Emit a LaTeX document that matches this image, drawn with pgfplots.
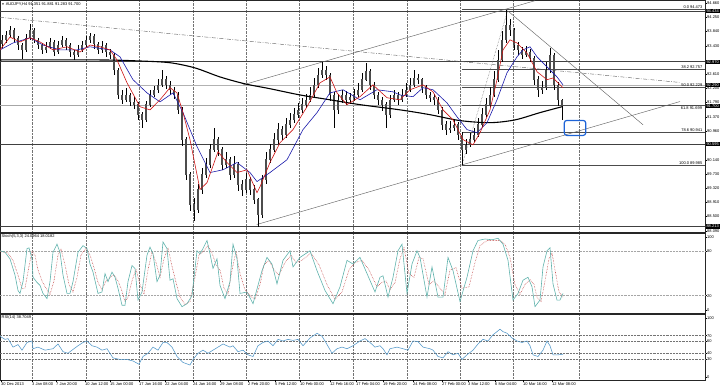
\documentclass[border=0pt]{standalone}
\usepackage{fontspec}
\setmainfont{Liberation Sans}
\usepackage{pgfplots}
\usepackage{pgfplotstable}
\pgfplotsset{compat=1.18}
\definecolor{stochmain}{RGB}{95,178,172}
\definecolor{stochsig}{RGB}{190,60,60}
\definecolor{rsiblue}{RGB}{80,150,200}
\definecolor{mared}{RGB}{205,20,20}
\definecolor{mablue}{RGB}{25,25,170}
\definecolor{boxblue}{RGB}{30,100,215}
\newcommand\lab{\fontsize{4}{4.5}\selectfont}

\pgfplotstableread{
x o h l c
2 93.50 93.75 93.38 93.60
6 93.60 93.85 93.52 93.74
10 93.74 94.00 93.68 93.89
14 93.89 93.95 93.55 93.66
18 93.66 93.72 93.30 93.45
22 93.45 93.52 93.05 93.31
26 93.31 93.78 93.25 93.66
30 93.66 94.06 93.60 93.89
34 93.89 93.94 93.50 93.60
38 93.60 93.66 93.35 93.45
42 93.45 93.52 93.20 93.31
46 93.31 93.55 93.22 93.40
50 93.40 93.66 93.33 93.54
54 93.54 93.60 93.12 93.25
58 93.25 93.58 93.18 93.45
62 93.45 93.72 93.40 93.60
66 93.60 93.66 93.30 93.43
70 93.43 93.50 93.10 93.25
74 93.25 93.32 93.02 93.17
78 93.17 93.44 93.10 93.31
82 93.31 93.58 93.25 93.45
86 93.45 93.70 93.40 93.60
90 93.60 93.80 93.52 93.71
94 93.71 93.76 93.35 93.48
98 93.48 93.55 93.18 93.31
102 93.31 93.56 93.22 93.43
106 93.43 93.50 93.10 93.25
110 93.25 93.33 93.05 93.17
114 93.17 93.22 92.60 92.73
118 92.73 92.80 91.90 92.01
122 92.01 92.15 91.75 91.87
126 91.87 92.20 91.80 92.01
130 92.01 92.08 91.70 91.81
134 91.81 91.95 91.60 91.73
138 91.73 91.80 91.30 91.44
142 91.44 91.52 91.06 91.29
146 91.29 91.85 91.22 91.73
150 91.73 92.15 91.65 92.01
154 92.01 92.28 91.95 92.16
158 92.16 92.48 92.08 92.30
162 92.30 92.73 92.25 92.45
166 92.45 92.55 92.18 92.30
170 92.30 92.40 92.02 92.16
174 92.16 92.25 91.88 92.01
178 92.01 92.10 91.45 91.58
182 91.58 91.65 90.55 90.72
186 90.72 90.80 89.55 89.71
190 89.71 89.80 88.65 88.85
194 88.85 89.05 88.36 88.70
198 88.70 89.45 88.60 89.28
202 89.28 89.90 89.15 89.71
206 89.71 90.20 89.60 90.00
210 90.00 90.60 89.90 90.43
214 90.43 91.06 90.35 90.72
218 90.72 90.80 90.25 90.43
222 90.43 90.52 89.85 90.00
226 90.00 90.35 89.90 90.14
230 90.14 90.22 89.55 89.71
234 89.71 90.25 89.62 90.00
238 90.00 90.08 89.25 89.42
242 89.42 89.55 89.10 89.28
246 89.28 89.75 89.18 89.57
250 89.57 89.65 89.12 89.28
254 89.28 89.40 88.85 88.99
258 88.99 89.05 88.21 88.56
262 88.56 89.70 88.45 89.57
266 89.57 90.35 89.45 90.14
270 90.14 90.60 90.05 90.43
274 90.43 90.90 90.35 90.72
278 90.72 91.20 90.60 91.01
282 91.01 91.10 90.70 90.86
286 90.86 91.35 90.78 91.15
290 91.15 91.50 91.05 91.29
294 91.29 91.62 91.20 91.44
298 91.44 91.78 91.35 91.58
302 91.58 91.92 91.50 91.73
306 91.73 92.05 91.62 91.87
310 91.87 92.25 91.80 92.01
314 92.01 92.50 91.95 92.30
318 92.30 92.80 92.22 92.59
322 92.59 92.96 92.50 92.73
326 92.73 92.85 92.45 92.59
330 92.59 92.65 91.85 92.01
334 92.01 92.10 91.06 91.58
338 91.58 92.05 91.45 91.87
342 91.87 92.15 91.78 92.01
346 92.01 92.12 91.72 91.87
350 91.87 92.08 91.75 91.93
354 91.93 92.18 91.85 92.01
358 92.01 92.35 91.95 92.16
362 92.16 92.65 92.10 92.45
366 92.45 92.93 92.40 92.68
370 92.68 92.75 92.15 92.30
374 92.30 92.38 91.88 92.01
378 92.01 92.10 91.72 91.87
382 91.87 91.95 91.55 91.73
386 91.73 91.80 91.06 91.44
390 91.44 92.00 91.35 91.87
394 91.87 92.15 91.80 92.01
398 92.01 92.10 91.72 91.87
402 91.87 92.18 91.80 92.01
406 92.01 92.35 91.95 92.16
410 92.16 92.50 92.10 92.30
414 92.30 92.73 92.25 92.50
418 92.50 92.62 92.32 92.45
422 92.45 92.50 92.08 92.22
426 92.22 92.30 91.88 92.01
430 92.01 92.10 91.80 91.93
434 91.93 92.05 91.72 91.87
438 91.87 91.95 91.45 91.58
442 91.58 91.65 91.00 91.15
446 91.15 91.25 90.85 91.01
450 91.01 91.25 90.92 91.06
454 91.06 91.30 90.98 91.15
458 91.15 91.22 90.70 90.86
462 90.86 90.95 89.985 90.43
466 90.43 90.75 90.30 90.57
470 90.57 90.90 90.50 90.72
474 90.72 91.05 90.65 90.86
478 90.86 91.35 90.80 91.15
482 91.15 91.62 91.08 91.44
486 91.44 91.92 91.38 91.73
490 91.73 92.25 91.65 92.01
494 92.01 92.70 91.95 92.45
498 92.45 93.30 92.38 93.02
502 93.02 93.85 92.95 93.60
506 93.60 94.473 93.50 94.03
510 94.03 94.20 93.70 93.89
514 93.89 93.95 93.30 93.45
518 93.45 93.55 93.15 93.31
522 93.31 93.40 93.05 93.17
526 93.17 93.42 93.10 93.25
530 93.25 93.35 92.95 93.08
534 93.08 93.12 92.30 92.45
538 92.45 92.55 91.95 92.16
542 92.16 92.40 92.05 92.22
546 92.22 92.95 92.15 92.73
550 92.73 93.37 92.65 93.17
554 93.17 93.22 92.15 92.30
558 92.30 92.38 91.70 91.87
562 91.87 91.88 91.29 91.70
}\candles

\pgfplotsset{mtpanel/.style={
  scale only axis, width=705pt, xmin=0, xmax=705,
  axis line style={black!85, line width=0.5pt},
  xtick={32.3,86,139.3,192.7,246,299.3,352.7,406.7,460,513.3,579.3},
  xticklabels={}, xtick pos=bottom, xtick style={draw=none},
  xmajorgrids, major grid style={black!55, densely dotted, line width=0.4pt},
  ytick pos=right, yticklabel pos=right,
  tick align=outside, major tick length=1.5pt,
  ytick style={black, line width=0.4pt},
  yticklabel style={font=\lab, inner sep=0.5pt, anchor=west},
  clip=false,
}}
\tikzset{hl/.style={fill=black, text=white, font=\lab, anchor=west, inner xsep=0.8pt, inner ysep=0.6pt}}

\begin{document}
\begin{tikzpicture}
\path[use as bounding box] (0,0) rectangle (720pt,-387pt);

% ---------------- main price panel ----------------
\begin{axis}[mtpanel, at={(0pt,-0.5pt)}, anchor=north west,
  height=232pt, ymin=88.04, ymax=94.736,
  ytick={94.66,94.25,93.84,93.43,92.61,92.20,91.79,91.37,90.96,90.14,89.73,89.32,88.91,88.50,88.09},
  yticklabels={94.660,94.250,93.840,93.430,92.610,92.200,91.790,91.370,90.960,90.140,89.730,89.320,88.910,88.500,88.090}]
% horizontal levels
\addplot[black!75, line width=0.6pt] coordinates {(0,94.434) (705,94.434)};
\addplot[black!75, line width=0.6pt] coordinates {(0,92.970) (705,92.970)};
\addplot[black!30, line width=1.4pt] coordinates {(0,92.290) (705,92.290)};
\addplot[black!35, line width=0.6pt] coordinates {(0,91.700) (705,91.700)};
\addplot[black!75, line width=0.6pt] coordinates {(0,90.595) (705,90.595)};
\addplot[black!75, line width=0.6pt] coordinates {(0,88.213) (705,88.213)};
% fibonacci levels
\addplot[black!70, line width=0.5pt] coordinates {(462,94.473) (705,94.473)};
\addplot[black!70, line width=0.5pt] coordinates {(462,92.757) (705,92.757)};
\addplot[black!70, line width=0.5pt] coordinates {(462,92.229) (705,92.229)};
\addplot[black!70, line width=0.5pt] coordinates {(462,91.699) (705,91.699)};
\addplot[black!70, line width=0.5pt] coordinates {(462,90.945) (705,90.945)};
\addplot[black!70, line width=0.5pt] coordinates {(462,89.985) (705,89.985)};
\addplot[black!60, densely dotted, line width=0.5pt] coordinates {(462,89.985) (508,94.473)};
% trend lines
\addplot[black!60, line width=0.45pt] coordinates {(243,92.30) (535,94.73)};
\addplot[black!60, line width=0.45pt] coordinates {(256.7,88.27) (680,91.82)};
\addplot[black!60, line width=0.45pt] coordinates {(508,94.43) (643,91.15)};
\addplot[black!60, line width=0.45pt, dash pattern=on 4pt off 1.5pt on 0.6pt off 1.5pt] coordinates {(0,94.25) (680,92.37)};
% candles: wicks and bodies
\addplot[draw=none, error bars/.cd, y dir=both, y explicit, error mark=none,
  error bar style={draw=black, solid, line width=0.5pt}]
  table[x=x, y expr={(\thisrow{h}+\thisrow{l})/2}, y error expr={(\thisrow{h}-\thisrow{l})/2}] {\candles};
\addplot[draw=none, error bars/.cd, y dir=both, y explicit, error mark=none,
  error bar style={draw=black!70, solid, line width=1.6pt}]
  table[x=x, y expr={(\thisrow{o}+\thisrow{c})/2}, y error expr={abs(\thisrow{o}-\thisrow{c})/2+0.008}] {\candles};
% moving averages
\addplot[black, line width=1.1pt, smooth] coordinates {
(0,93.02) (100,93.02) (140,92.99) (170,92.94) (195,92.79) (220,92.53) (245,92.33) (270,92.19)
(300,92.01) (330,91.87) (360,91.73) (400,91.58) (430,91.44) (460,91.27) (490,91.21) (515,91.29)
(540,91.50) (562,91.67)};
\addplot[mablue, line width=0.6pt] coordinates {
(0,93.31) (13,93.51) (30,93.66) (43,93.45) (60,93.31) (77,93.31) (90,93.40) (110,93.31) (120,93.11)
(133,92.45) (147,92.07) (160,91.81) (173,92.07) (183,91.50) (197,90.52) (210,89.77) (223,89.85)
(237,90.06) (250,89.77) (257,89.51) (270,89.77) (287,90.14) (303,91.01) (317,91.50) (330,92.07)
(343,92.16) (360,91.87) (377,92.16) (393,92.10) (400,92.01) (413,91.96) (423,92.22) (433,92.16)
(447,91.78) (457,91.38) (467,91.01) (477,90.92) (487,91.21) (497,91.87) (507,92.65) (517,93.11)
(523,93.31) (530,93.40) (537,93.11) (547,92.82) (557,92.53) (563,92.30)};
\addplot[mared, line width=0.6pt] coordinates {
(0,93.31) (10,93.68) (20,93.54) (30,93.66) (40,93.54) (53,93.31) (67,93.40) (80,93.25) (90,93.45)
(100,93.40) (110,93.31) (117,93.02) (127,92.36) (140,91.67) (150,91.58) (160,91.87) (170,92.22)
(177,92.07) (183,91.50) (190,90.72) (200,89.28) (207,89.48) (218,90.37) (227,90.06) (237,89.77)
(247,89.85) (257,89.19) (260,89.36) (270,90.06) (280,90.63) (293,91.01) (307,91.67) (320,92.36)
(330,92.53) (337,92.07) (347,91.73) (360,91.96) (373,92.30) (387,91.93) (400,91.87) (410,92.16)
(423,92.30) (433,92.10) (443,91.58) (453,91.29) (463,90.72) (473,90.57) (480,90.92) (490,91.58)
(497,92.45) (503,93.31) (510,93.60) (517,93.51) (527,93.22) (537,92.68) (547,92.45) (553,92.50)
(563,92.22)};
% target box
\draw[boxblue, line width=1.2pt, rounded corners=2.5pt] (axis cs:564.3,91.274) rectangle (axis cs:585.7,90.842);
% fibonacci labels
\node[font=\lab, anchor=south east, inner sep=0.4pt] at (axis cs:703,94.473) {0.0 94.473};
\node[font=\lab, anchor=south east, inner sep=0.4pt] at (axis cs:703,92.757) {38.2 92.757};
\node[font=\lab, anchor=south east, inner sep=0.4pt] at (axis cs:703,92.229) {50.0 92.229};
\node[font=\lab, anchor=north east, inner sep=0.8pt] at (axis cs:703,91.699) {61.8 91.699};
\node[font=\lab, anchor=south east, inner sep=0.4pt] at (axis cs:703,90.945) {78.6 90.941};
\node[font=\lab, anchor=south east, inner sep=0.4pt] at (axis cs:703,89.985) {100.0 89.985};
% highlighted price labels
\node[hl] at (axis cs:705.5,94.434) {94.434};
\node[hl] at (axis cs:705.5,92.970) {92.970};
\node[hl] at (axis cs:705.5,92.290) {92.290};
\node[hl] at (axis cs:705.5,91.700) {91.700};
\node[hl] at (axis cs:705.5,90.595) {90.595};
\node[hl] at (axis cs:705.5,88.213) {88.213};
% header
\node[font=\lab, anchor=north west, inner sep=0.5pt] at (axis cs:1,94.70) {{\fontsize{3}{3}\selectfont ▼}\ AUDJPY,H4 91.351 91.881 91.283 91.700};
\end{axis}

% ---------------- stochastic panel ----------------
\begin{axis}[mtpanel, at={(0pt,-233.5pt)}, anchor=north west,
  height=79.5pt, ymin=-3.6, ymax=104.5,
  ytick={0,20,80,100}, yticklabels={0,20,80,100}]
\addplot[black!35, densely dotted, line width=0.45pt] coordinates {(0,80) (705,80)};
\addplot[black!35, densely dotted, line width=0.45pt] coordinates {(0,20) (705,20)};
\addplot[stochsig, densely dotted, line width=0.55pt] coordinates {
(0,80) (8,78) (13,68) (18,48) (22,30) (25,30) (29,60) (32,80) (35,75) (38,55) (42,40) (46,30) (50,22)
(54,40) (58,75) (61,83) (65,62) (69,35) (73,25) (77,45) (81,75) (86,85) (90,75) (94,58) (98,38)
(102,28) (106,40) (110,45) (114,48) (118,40) (121,30) (125,12) (128,18) (132,40) (136,56) (140,35)
(144,22) (148,55) (152,80) (156,65) (160,45) (164,70) (168,85) (172,60) (176,38) (180,18) (185,8)
(190,12) (195,45) (199,75) (203,80) (208,88) (212,78) (216,62) (220,55) (224,30) (228,22) (232,55)
(236,80) (240,50) (245,28) (250,20) (255,15) (260,35) (264,62) (269,68) (274,55) (279,48) (285,65)
(291,75) (296,65) (302,68) (311,78) (319,62) (327,35) (335,15) (342,25) (349,55) (355,65) (362,68)
(369,55) (377,32) (382,38) (386,40) (390,28) (395,38) (400,70) (404,85) (409,50) (414,45) (419,72)
(423,70) (429,35) (434,40) (440,30) (445,22) (450,55) (456,58) (462,30) (469,32) (475,65) (480,88)
(487,95) (494,95) (500,95) (505,90) (510,72) (515,35) (520,22) (525,35) (530,42) (534,35) (537,18)
(541,12) (545,40) (549,70) (552,78) (555,55) (559,25) (563,18)};
\addplot[stochmain, line width=0.6pt] coordinates {
(0,81) (5,79) (10,70) (15,48) (18,27) (20,23) (23,39) (27,84) (29,85) (32,70) (33,45) (37,38) (40,34)
(43,23) (47,16) (50,39) (53,79) (57,90) (60,79) (63,48) (67,23) (70,23) (73,39) (78,79) (83,88)
(87,84) (90,63) (93,52) (98,23) (102,25) (105,50) (108,39) (112,52) (115,45) (118,30) (122,7)
(125,7) (128,39) (132,61) (135,57) (138,14) (142,25) (147,75) (150,86) (153,77) (157,39) (160,48)
(163,93) (167,84) (170,41) (173,43) (177,16) (182,5) (187,9) (192,20) (197,81) (200,77) (203,84)
(207,95) (210,77) (213,57) (217,70) (220,34) (225,16) (230,39) (233,90) (237,70) (240,23) (247,25)
(253,9) (262,54) (267,72) (272,63) (277,36) (283,68) (290,81) (293,59) (300,72) (310,81) (317,54)
(325,27) (333,9) (340,32) (347,68) (353,63) (360,72) (367,50) (375,25) (380,45) (383,47) (388,18)
(393,45) (398,81) (402,90) (407,23) (412,63) (417,81) (420,72) (427,18) (432,59) (438,18) (443,18)
(448,72) (453,54) (460,12) (467,45) (473,81) (478,95) (485,97) (492,96) (498,98) (503,90) (508,68)
(513,14) (518,23) (523,41) (528,45) (532,32) (535,5) (540,14) (543,59) (547,81) (550,85) (553,36)
(557,14) (560,14) (563,23)};
\node[font=\lab, anchor=north west, inner sep=0.5pt] at (axis cs:1,104) {Stoch(5,3,3) 24.0964 18.0182};
\end{axis}

% ---------------- RSI panel ----------------
\begin{axis}[mtpanel, at={(0pt,-314pt)}, anchor=north west,
  height=66pt, ymin=-4.5, ymax=106.3,
  ytick={0,30,40,60,70,100}, yticklabels={0,30,40,60,70,100},
  extra x ticks={1,32,56,85,110,139,165,193,220,248,275,300,330,356,383,413,442,468,495,523,552},
  extra x tick labels={30 Dec 2013,3 Jan 08:00,7 Jan 20:00,10 Jan 12:00,15 Jan 00:00,17 Jan 16:00,22 Jan 04:00,24 Jan 16:00,29 Jan 08:00,2 Feb 20:00,5 Feb 12:00,10 Feb 00:00,12 Feb 16:00,17 Feb 04:00,19 Feb 20:00,24 Feb 08:00,27 Feb 00:00,3 Mar 12:00,6 Mar 04:00,10 Mar 16:00,12 Mar 08:00},
  extra x tick style={grid=none, xtick style={draw=black, line width=0.4pt}, major tick length=2pt,
    xticklabel style={font=\lab, anchor=north west, inner sep=0.5pt, xshift=-0.5pt}}]
\addplot[black!55, densely dotted, line width=0.45pt] coordinates {(0,70) (705,70)};
\addplot[black!55, densely dotted, line width=0.45pt] coordinates {(0,60) (705,60)};
\addplot[black!55, densely dotted, line width=0.45pt] coordinates {(0,40) (705,40)};
\addplot[black!55, densely dotted, line width=0.45pt] coordinates {(0,30) (705,30)};
\addplot[rsiblue, line width=0.55pt] coordinates {
(0,68.9) (5,63.7) (8,65) (13,50.7) (18,55) (22,45.6) (27,58.5) (32,61) (33,48) (38,50.7) (45,45.6)
(53,48) (58,56) (63,43) (68,40.4) (72,45.6) (78,53) (83,58.5) (87,61) (92,53) (97,50.7) (102,45.6)
(107,48) (113,32.6) (120,30) (127,30) (133,27.4) (139,22) (143,35) (148,40.4) (153,50.7) (158,45.6)
(163,58.5) (167,58.5) (172,50.7) (177,35) (183,25) (190,20.7) (193,30) (198,40.4) (203,45.6)
(208,40.4) (213,45.6) (218,50.7) (223,56) (230,50.7) (233,53) (238,43) (243,45.6) (248,37.8)
(253,35) (258,53) (263,58.5) (268,61) (273,53) (278,63.7) (283,61) (288,63.7) (293,62) (298,63.7)
(303,53) (310,66) (317,74) (322,69) (325,61) (332,40.4) (337,48) (342,50.7) (347,48) (353,53)
(360,61) (365,65) (370,58.5) (375,50.7) (380,53) (383,48) (387,37.8) (390,48) (397,50.7) (403,48)
(408,45.6) (413,61) (418,60) (423,50.7) (430,48) (433,45.6) (438,35) (443,32.6) (448,43) (453,37.8)
(458,40.4) (462,30) (467,37.8) (473,45.6) (478,56) (483,63.7) (488,61) (493,71.5) (497,76.7)
(500,80.8) (503,76.7) (507,74) (512,66) (517,61) (522,58.5) (527,61) (530,53) (533,37.8) (538,35)
(543,45.6) (547,61) (550,53) (553,37.8) (558,37.8) (563,38.7)};
\node[font=\lab, anchor=north west, inner sep=0.5pt] at (axis cs:1,105.5) {RSI(14) 38.7049};
\end{axis}
\end{tikzpicture}
\end{document}
